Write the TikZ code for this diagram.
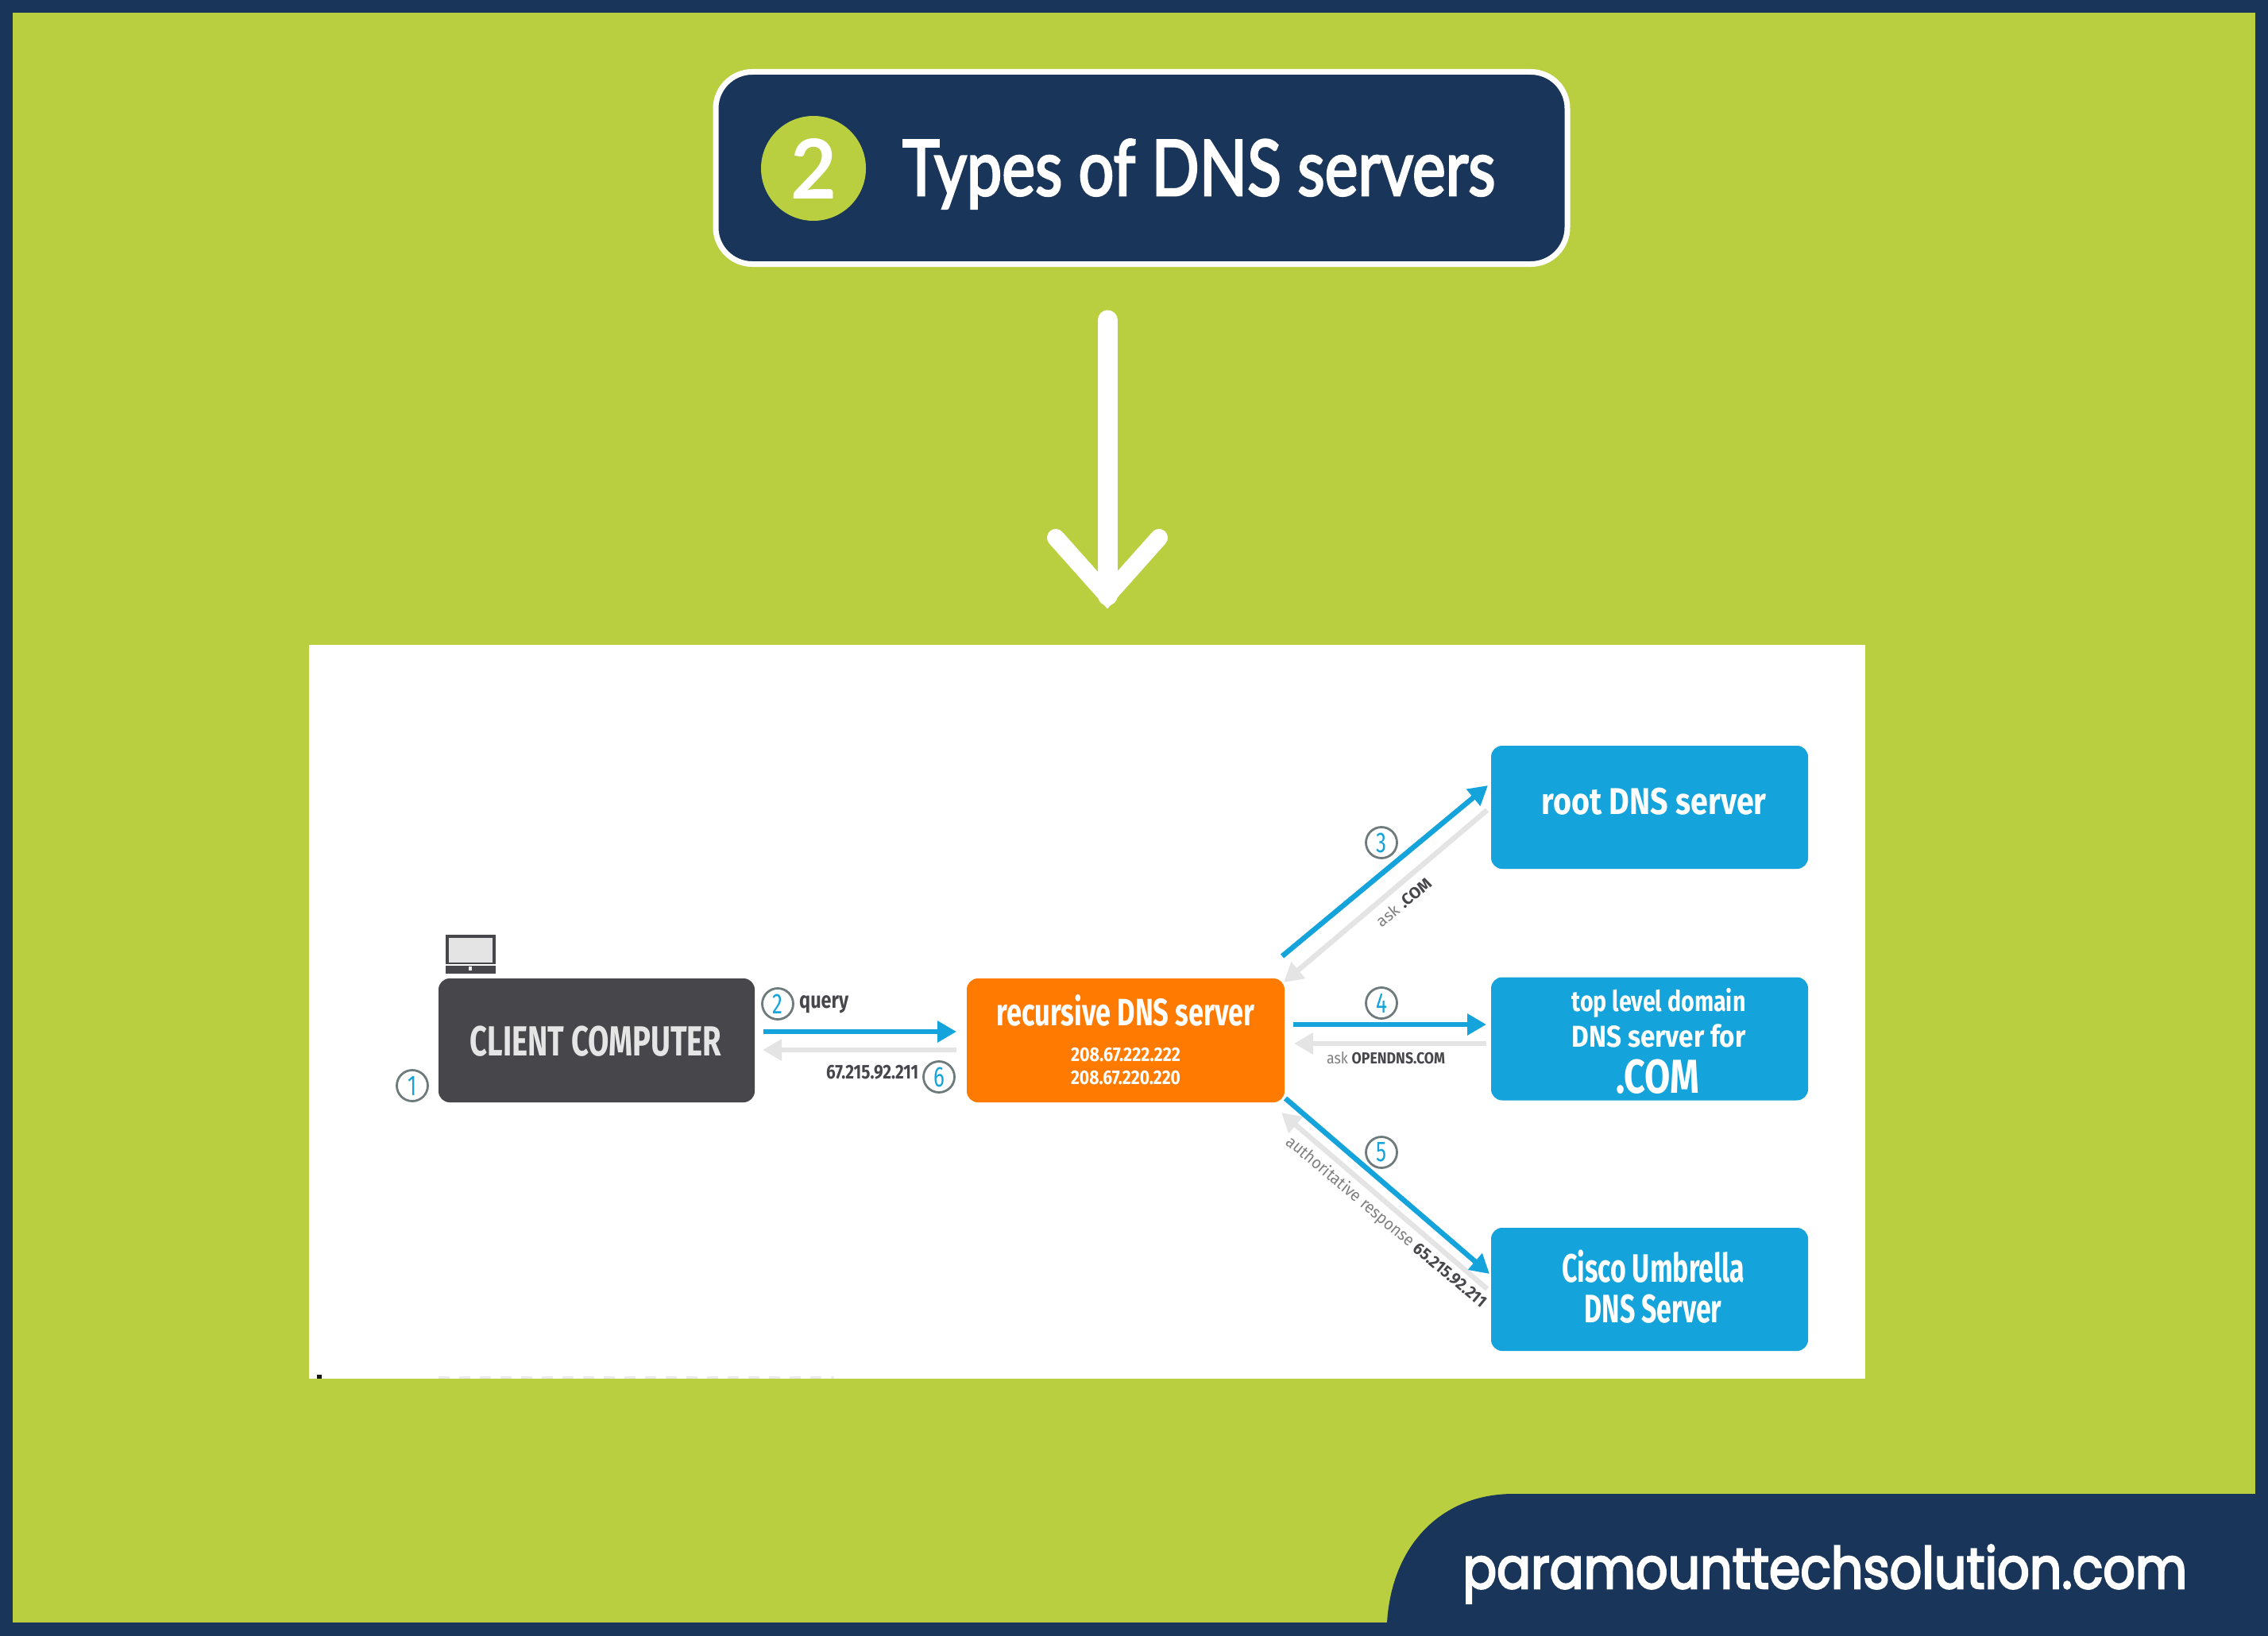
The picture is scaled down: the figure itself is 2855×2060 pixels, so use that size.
\documentclass[tikz,border=0pt]{standalone}
\usepackage{fontspec}
\usepackage{graphicx}
\usetikzlibrary{arrows.meta}
\setmainfont{Fira Sans}
\newfontfamily\titlefont[FakeBold=3]{Lato}
\newfontfamily\numfont{Lato}
\newfontfamily\webfont[FakeBold=3.5]{Poppins}
\definecolor{navy}{HTML}{19355A}
\definecolor{lime}{HTML}{B9CF40}
\definecolor{skyb}{HTML}{14A3DA}
\definecolor{orng}{HTML}{FF7A00}
\definecolor{slate}{HTML}{47464B}
\definecolor{pale}{HTML}{E4E4E4}
\definecolor{ringc}{HTML}{6E7B7D}
% width in px, font size in px, text
\newcommand{\tw}[3]{\resizebox{#1pt}{\height}{\fontsize{#2pt}{#2pt}\selectfont #3}}
\newcommand{\rn}[1]{\scalebox{.72}[1]{\fontsize{36pt}{36pt}\selectfont #1}}
\tikzset{
  box/.style={rounded corners=14pt,inner sep=0pt,align=center,text=white,font=\bfseries},
  bluebox/.style={box,fill=skyb,minimum width=399pt,minimum height=155pt},
  lab/.style={inner sep=0pt,text=slate,font=\bfseries},
  ring/.style={circle,draw=ringc,line width=2.8pt,minimum size=39pt,inner sep=0pt,text=skyb},
  fwd/.style={draw=skyb,line width=6.5pt,-{Triangle[length=24pt,width=26pt]}},
  bck/.style={draw=pale,line width=6.5pt,-{Triangle[length=24pt,width=26pt]}},
}
\begin{document}
\begin{tikzpicture}[x=1pt,y=-1pt]
\useasboundingbox (0,0) rectangle (2855,2060);
\fill[navy] (0,0) rectangle (2855,2060);
\fill[lime] (16,16) rectangle (2839,2043);
% title
\node[draw=white,line width=7pt,fill=navy,rounded corners=46pt,minimum width=1072pt,minimum height=242pt,inner sep=0pt] (title) at (1437,211.5) {};
\node[circle,fill=lime,minimum size=132pt,inner sep=0pt,text=white,font=\numfont\bfseries] (num) at (1024,212) {\tw{58}{104}{2}};
\node[anchor=base west,inner sep=0pt,text=white,font=\titlefont] (titletext) at (1136,246) {\tw{746}{97}{Types of DNS servers}};
% large arrow
\coordinate (bigtop) at (1394,403);
\coordinate (bigtip) at (1394,750);
\coordinate (bigl) at (1329,677);
\coordinate (bigr) at (1459,677);
\draw[white,line width=25pt,line cap=round,line join=miter] (bigtop) -- (bigtip);
\draw[white,line width=22pt,line cap=round,line join=miter] (bigl) -- (bigtip) -- (bigr);
% white panel
\fill[white] (389,812) rectangle (2348,1736);
\fill[black!90] (399,1731) rectangle (405,1736);
\draw[black!8,line width=3pt,dash pattern=on 14pt off 12pt] (552,1734.5) -- (1050,1734.5);
% boxes
\node[box,fill=slate,minimum width=398pt,minimum height=156pt] (client) at (751,1310) {};
\node[lab,text=white!90!black] (clienttext) at (750,1311) {\tw{317}{53}{CLIENT COMPUTER}};
\node[box,fill=orng,minimum width=400pt,minimum height=156pt] (rec) at (1417,1310) {};
\node[inner sep=0pt,text=white,font=\bfseries] (rectext) at (1417,1272) {\tw{325}{48}{recursive DNS server}};
\node[inner sep=0pt,text=white,font=\bfseries] (ip1) at (1417,1328) {\tw{138}{25}{208.67.222.222}};
\node[inner sep=0pt,text=white,font=\bfseries] (ip2) at (1417,1357) {\tw{138}{25}{208.67.220.220}};
\node[bluebox] (root) at (2076.5,1016.5) {};
\node[inner sep=0pt,text=white,font=\bfseries] (roottext) at (2082,1009) {\tw{283}{47}{root DNS server}};
\node[bluebox] (tld) at (2076.5,1308) {};
\node[inner sep=0pt,text=white,font=\bfseries] (tld1) at (2088,1263) {\tw{219}{36}{top level domain}};
\node[inner sep=0pt,text=white,font=\bfseries] (tld2) at (2088,1304) {\tw{219}{38}{DNS server for}};
\node[inner sep=0pt,text=white,font=\bfseries] (tld3) at (2087,1356) {\tw{105}{60}{.COM}};
\node[bluebox] (cisco) at (2076.5,1623.5) {};
\node[inner sep=0pt,text=white,font=\bfseries] (cisco1) at (2081,1595) {\tw{230}{50}{Cisco Umbrella}};
\node[inner sep=0pt,text=white,font=\bfseries] (cisco2) at (2081,1648) {\tw{173}{50}{DNS Server}};
% laptop
\fill[slate] (561,1177) rectangle (624,1214);
\fill[pale] (565,1181) rectangle (620,1212);
\fill[slate] (561,1216) rectangle (624,1226);
\fill[white] (590,1217) rectangle (594,1222);
% connector ends
\coordinate (q1) at (961,1299);   \coordinate (q2) at (1204,1299);
\coordinate (r1) at (1204,1322);  \coordinate (r2) at (960,1322);
\coordinate (a1) at (1614,1204);  \coordinate (a2) at (1873,989);
\coordinate (b1) at (1872,1020);  \coordinate (b2) at (1616,1237);
\coordinate (c1) at (1628,1290);  \coordinate (c2) at (1871,1290);
\coordinate (d1) at (1871,1314);  \coordinate (d2) at (1629,1314);
\coordinate (e1) at (1872,1623);  \coordinate (e2) at (1613,1401);
\coordinate (f1) at (1618,1383);  \coordinate (f2) at (1875,1604);
\draw[bck] (r1) -- (r2);
\draw[fwd] (q1) -- (q2);
\draw[bck] (b1) -- (b2);
\draw[fwd] (a1) -- (a2);
\draw[bck] (d1) -- (d2);
\draw[fwd] (c1) -- (c2);
\draw[bck] (e1) -- (e2);
\draw[fwd] (f1) -- (f2);
% step numbers
\node[ring] (n1) at (519,1367) {\rn{1}};
\node[ring] (n2) at (979,1264) {\rn{2}};
\node[ring] (n3) at (1739,1061) {\rn{3}};
\node[ring] (n4) at (1739,1263) {\rn{4}};
\node[ring] (n5) at (1739,1451) {\rn{5}};
\node[ring] (n6) at (1182,1356) {\rn{6}};
% labels
\node[lab,anchor=west] (query) at (1006,1265) {\tw{62}{29}{query}};
\node[lab,anchor=west] (ipback) at (1040,1350) {\tw{116}{25}{67.215.92.211}};
\node[inner sep=0pt,rotate=40] (askcom) at (1767,1136) {\tw{83}{20}{\color{black!50}ask {\bfseries\color{slate}.COM}}};
\node[inner sep=0pt] (askopen) at (1744.5,1332) {\tw{149}{20}{\color{black!50}ask {\bfseries\color{slate}OPENDNS.COM}}};
\node[inner sep=0pt,rotate=-40] (auth) at (1745,1539) {\tw{322}{21}{\color{black!50}authoritative response {\bfseries\color{slate}65.215.92.211}}};
% footer
\fill[navy] (1746,2043) .. controls (1752,1945) and (1815,1881) .. (1905,1881) -- (2839,1881) -- (2839,2043) -- cycle;
\node[anchor=base west,inner sep=0pt,text=white,font=\webfont] (web) at (1841,2000) {\tw{912}{72}{paramounttechsolution.com}};
\end{tikzpicture}
\end{document}
